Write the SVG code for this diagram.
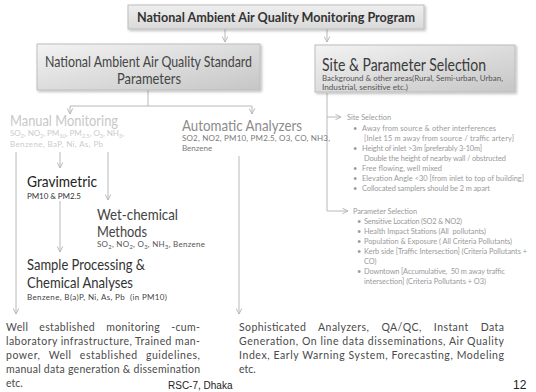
<svg xmlns="http://www.w3.org/2000/svg" width="536" height="392" viewBox="0 0 536 392">
<defs>
<linearGradient id="gTop" x1="0" y1="0" x2="0" y2="1"><stop offset="0" stop-color="#efefef"/><stop offset="1" stop-color="#d9d9d9"/></linearGradient>
<linearGradient id="gBox" x1="0" y1="0" x2="1" y2="1"><stop offset="0" stop-color="#f3f3f3"/><stop offset="1" stop-color="#c6c6c6"/></linearGradient>
<filter id="sh" x="-5%" y="-10%" width="115%" height="140%"><feDropShadow dx="1.5" dy="1.5" stdDeviation="1" flood-color="#000" flood-opacity="0.25"/></filter>
<marker id="ar" viewBox="0 0 10 10" refX="9" refY="5" markerWidth="7" markerHeight="7" markerUnits="userSpaceOnUse" orient="auto"><path d="M1,1 L9,5 L1,9" fill="none" stroke="#b3b3b3" stroke-width="1.3"/></marker>
</defs>
<style>
text{font-family:Lato,"Open Sans","Noto Sans",sans-serif}
.box{stroke:#bdbdbd;stroke-width:1;filter:url(#sh)}
.ln{fill:none;stroke:#b8b8b8;stroke-width:1}
.la{fill:none;stroke:#b8b8b8;stroke-width:1;marker-end:url(#ar)}
.hd{font-size:15px}
.sub{font-size:8px}
.sb{font-size:5.8px;baseline-shift:-1.6px}
.tree{font-size:7.4px;fill:#9a9a9a}
.body{font-size:10.5px;fill:#4a4a4a}
.ft{font-family:"Liberation Sans",Arial,sans-serif;fill:#222}
</style>
<rect width="536" height="392" fill="#ffffff"/>

<g id="connectors">
<line class="la" x1="225" y1="29" x2="225" y2="42"/>
<line class="la" x1="327" y1="29" x2="327" y2="42"/>
<polyline class="ln" points="148,90 148,106"/>
<line class="ln" x1="70" y1="106" x2="252" y2="106"/>
<line class="la" x1="70" y1="106" x2="70" y2="114"/>
<line class="la" x1="252" y1="106" x2="252" y2="114"/>
<line class="la" x1="16" y1="152" x2="16" y2="314"/>
<line class="la" x1="60" y1="152" x2="60" y2="168"/>
<line class="la" x1="108" y1="152" x2="108" y2="200"/>
<line class="la" x1="239" y1="156" x2="239" y2="314"/>
<line class="la" x1="60" y1="201" x2="60" y2="252"/>
<polyline class="ln" points="327,93 327,211"/>
<line class="la" x1="327" y1="117" x2="341" y2="117"/>
<line class="la" x1="327" y1="211" x2="348" y2="211"/>
</g>

<g id="n-top">
<rect class="box" x="128" y="5" width="296" height="24" fill="url(#gTop)"/>
<text x="276" y="21.5" text-anchor="middle" font-size="14" font-weight="bold" fill="#333" textLength="278" lengthAdjust="spacingAndGlyphs">National Ambient Air Quality Monitoring Program</text>
</g>

<g id="n-naaqs">
<rect class="box" x="37" y="44" width="223" height="46" fill="url(#gBox)"/>
<text class="hd" x="148.5" y="67" text-anchor="middle" fill="#454545" textLength="207" lengthAdjust="spacingAndGlyphs">National Ambient Air Quality Standard</text>
<text class="hd" x="149" y="84" text-anchor="middle" fill="#454545" textLength="64" lengthAdjust="spacingAndGlyphs">Parameters</text>
</g>

<g id="n-site">
<rect class="box" x="315" y="45" width="200" height="47" fill="url(#gBox)"/>
<text x="322" y="71" font-size="17" fill="#3a3a3a" textLength="164" lengthAdjust="spacingAndGlyphs">Site &amp; Parameter Selection</text>
<text x="322" y="81" font-size="7.2" fill="#555" textLength="181" lengthAdjust="spacingAndGlyphs">Background &amp; other areas(Rural, Semi-urban, Urban,</text>
<text x="322" y="89.5" font-size="7.2" fill="#555" textLength="86" lengthAdjust="spacingAndGlyphs">Industrial, sensitive etc.)</text>
</g>

<g id="n-manual">
<text class="hd" x="10" y="126" fill="#c8c8c8" textLength="108" lengthAdjust="spacingAndGlyphs">Manual Monitoring</text>
<text class="sub" x="10" y="136" fill="#cccccc" textLength="114" lengthAdjust="spacing">SO<tspan class="sb">2</tspan>, NO<tspan class="sb">2</tspan>, PM<tspan class="sb">10</tspan>, PM<tspan class="sb">2.5</tspan>, O<tspan class="sb">3</tspan>, NH<tspan class="sb">3</tspan>,</text>
<text class="sub" x="10" y="147" fill="#cccccc" textLength="93" lengthAdjust="spacing">Benzene, BaP, Ni, As, Pb</text>
</g>

<g id="n-auto">
<text class="hd" x="182" y="131" fill="#8c8c8c" textLength="120" lengthAdjust="spacingAndGlyphs">Automatic Analyzers</text>
<text class="sub" x="182" y="141" fill="#7a7a7a" textLength="148" lengthAdjust="spacing">SO2, NO2, PM10, PM2.5, O3, CO, NH3,</text>
<text class="sub" x="182" y="151" fill="#7a7a7a">Benzene</text>
</g>

<g id="n-grav">
<text x="27" y="187" font-size="16" fill="#222" textLength="70" lengthAdjust="spacingAndGlyphs">Gravimetric</text>
<text class="sub" x="27" y="198.5" fill="#333" textLength="54" lengthAdjust="spacing">PM10 &amp; PM2.5</text>
</g>

<g id="n-wet">
<text class="hd" x="97" y="220" fill="#444" textLength="81" lengthAdjust="spacingAndGlyphs">Wet-chemical</text>
<text class="hd" x="97" y="237" fill="#444" textLength="50" lengthAdjust="spacingAndGlyphs">Methods</text>
<text class="sub" x="97" y="247" fill="#555" textLength="108" lengthAdjust="spacing">SO<tspan class="sb">2</tspan>, NO<tspan class="sb">2</tspan>, O<tspan class="sb">3</tspan>, NH<tspan class="sb">3</tspan>, Benzene</text>
</g>

<g id="n-sample">
<text class="hd" x="27" y="270" fill="#333" textLength="118" lengthAdjust="spacingAndGlyphs">Sample Processing &amp;</text>
<text class="hd" x="27" y="288" fill="#333" textLength="106" lengthAdjust="spacingAndGlyphs">Chemical Analyses</text>
<text class="sub" x="27" y="299.5" fill="#444" style="white-space:pre" textLength="140" lengthAdjust="spacing">Benzene, B(a)P, Ni, As, Pb  (in PM10)</text>
</g>

<g id="n-manual-out">
<text class="body" x="6" y="331" style="word-spacing:8px" textLength="194" lengthAdjust="spacing">Well established monitoring -cum-</text>
<text class="body" x="6" y="345" textLength="194" lengthAdjust="spacing">laboratory infrastructure, Trained man-</text>
<text class="body" x="6" y="359" style="word-spacing:5px" textLength="194" lengthAdjust="spacing">power, Well established guidelines,</text>
<text class="body" x="6" y="373" textLength="194" lengthAdjust="spacing">manual data generation &amp; dissemination</text>
<text class="body" x="6" y="387">etc.</text>
</g>

<g id="n-auto-out">
<text class="body" x="239" y="331" style="word-spacing:9px" textLength="265" lengthAdjust="spacing">Sophisticated Analyzers, QA/QC, Instant Data</text>
<text class="body" x="239" y="345" textLength="265" lengthAdjust="spacing">Generation, On line data disseminations, Air Quality</text>
<text class="body" x="239" y="359" textLength="265" lengthAdjust="spacing">Index, Early Warning System, Forecasting, Modeling</text>
<text class="body" x="239" y="373">etc.</text>
</g>

<g id="n-site-sel">
<text class="tree" x="347" y="120" textLength="44" lengthAdjust="spacing">Site Selection</text>
<text class="tree" x="353" y="131">•</text><text class="tree" x="362" y="131" textLength="134" lengthAdjust="spacing">Away from source &amp; other interferences</text>
<text class="tree" x="364" y="141" textLength="150" lengthAdjust="spacing">[Inlet 15 m away from source / traffic artery]</text>
<text class="tree" x="353" y="151">•</text><text class="tree" x="362" y="151" textLength="120" lengthAdjust="spacing">Height of inlet &gt;3m [preferably 3-10m]</text>
<text class="tree" x="364" y="161" textLength="142" lengthAdjust="spacing">Double the height of nearby wall / obstructed</text>
<text class="tree" x="353" y="171">•</text><text class="tree" x="362" y="171" textLength="80" lengthAdjust="spacing">Free flowing, well mixed</text>
<text class="tree" x="353" y="181">•</text><text class="tree" x="362" y="181" textLength="162" lengthAdjust="spacing">Elevation Angle &lt;30 [from inlet to top of building]</text>
<text class="tree" x="353" y="191">•</text><text class="tree" x="362" y="191" textLength="128" lengthAdjust="spacing">Collocated samplers should be 2 m apart</text>
</g>

<g id="n-param-sel">
<text class="tree" x="353" y="214" textLength="64" lengthAdjust="spacing">Parameter Selection</text>
<text class="tree" x="357" y="224">•</text><text class="tree" x="364" y="224" textLength="98" lengthAdjust="spacing">Sensitive Location (SO2 &amp; NO2)</text>
<text class="tree" x="357" y="234">•</text><text class="tree" x="364" y="234" style="white-space:pre" textLength="122" lengthAdjust="spacing">Health Impact Stations (All  pollutants)</text>
<text class="tree" x="357" y="244">•</text><text class="tree" x="364" y="244" textLength="148" lengthAdjust="spacing">Population &amp; Exposure ( All Criteria Pollutants)</text>
<text class="tree" x="357" y="254">•</text><text class="tree" x="364" y="254" textLength="163" lengthAdjust="spacing">Kerb side [Traffic Intersection] (Criteria Pollutants +</text>
<text class="tree" x="364" y="264">CO)</text>
<text class="tree" x="357" y="274">•</text><text class="tree" x="364" y="274" style="white-space:pre" textLength="141" lengthAdjust="spacing">Downtown [Accumulative,  50 m away traffic</text>
<text class="tree" x="364" y="284" textLength="122" lengthAdjust="spacing">intersection] (Criteria Pollutants + O3)</text>
</g>

<g id="footer">
<text class="ft" x="168" y="389" font-size="10">RSC-7, Dhaka</text>
<text class="ft" x="513" y="389" font-size="12">12</text>
</g>
</svg>
